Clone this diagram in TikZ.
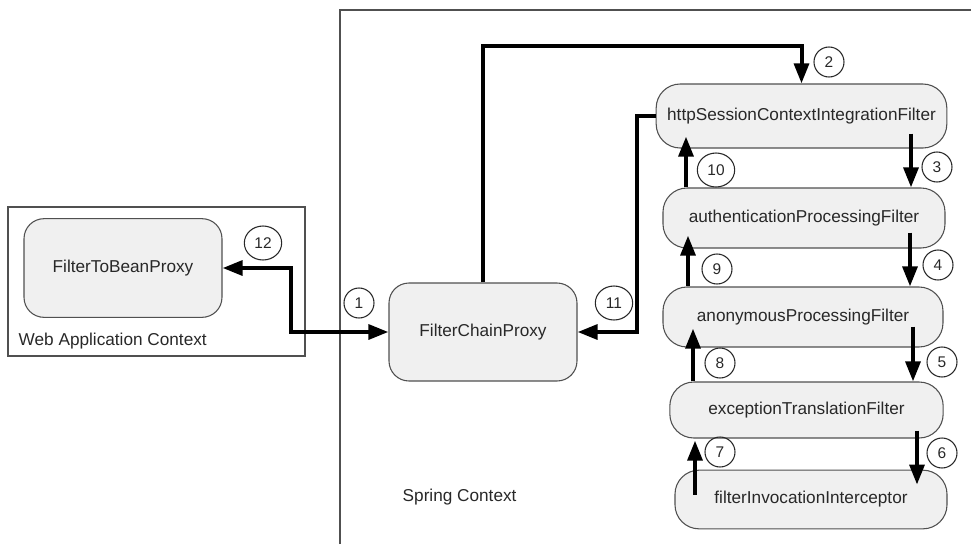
\documentclass[tikz,border=0pt]{standalone}
\usepackage{fontspec}
\setmainfont{Liberation Sans}
\usetikzlibrary{arrows.meta,positioning,calc,shapes.geometric}
\definecolor{BoxFill}{RGB}{240,240,240}
\definecolor{BoxLine}{RGB}{80,80,80}
\definecolor{DarkText}{RGB}{40,40,40}
\tikzset{
  beanbox/.style={draw=BoxLine,fill=BoxFill,rounded corners=15pt,
               font=\fontsize{12.9}{15}\selectfont,text=DarkText,
               text centered,line width=0.8pt},
  filterbox/.style={draw=BoxLine,fill=BoxFill,rounded corners=18pt,
               font=\fontsize{12.9}{15}\selectfont,text=DarkText,
               text centered,line width=0.8pt},
  numc/.style={draw=DarkText,circle,minimum size=22.5pt,inner sep=1pt,
               font=\fontsize{11.6}{13}\selectfont,text=DarkText,line width=0.8pt},
  numw/.style={numc,ellipse,minimum width=28pt,minimum height=25.5pt},
  ctxlabel/.style={anchor=west,font=\fontsize{12.9}{15}\selectfont,text=DarkText},
  ctxline/.style={draw=BoxLine,line width=1pt},
  arr/.style={-{Triangle[length=15pt,width=11pt]},line width=3pt},
  arrb/.style={{Triangle[length=15pt,width=11pt]}-{Triangle[length=15pt,width=11pt]},line width=3pt},
}
\begin{document}
\begin{tikzpicture}[x=0.75pt,y=-0.75pt]
    \useasboundingbox (0,0) rectangle (971,544);

    % Contexts
    \draw[ctxline] (340,544) -- (340,10) -- (971,10);
    \node[ctxline, minimum width=222.75pt, minimum height=111.75pt] (webapp) at (156.5,281.5) {};
    \node[ctxlabel] (weblabel) at (14,341) {Web Application Context};
    \node[ctxlabel] (springlabel) at (398,497) {Spring Context};

    % Node definitions
    \node[beanbox, minimum width=148.5pt, minimum height=74pt] (ftb) at (123,268) {FilterToBeanProxy};
    \node[beanbox, minimum width=141pt, minimum height=73.5pt] (fcp) at (483,332) {FilterChainProxy};
    \node[filterbox, minimum width=218pt, minimum height=48pt] (http) at (801.5,116) {httpSessionContextIntegrationFilter};
    \node[filterbox, minimum width=211.5pt, minimum height=45pt] (auth) at (804,218) {authenticationProcessingFilter};
    \node[filterbox, minimum width=210pt, minimum height=45pt] (anon) at (803,317) {anonymousProcessingFilter};
    \node[filterbox, minimum width=205pt, minimum height=42pt] (exc) at (806.5,410) {exceptionTranslationFilter};
    \node[filterbox, minimum width=204pt, minimum height=44pt] (inv) at (811,499.5) {filterInvocationInterceptor};

    % Edges
    \draw[arrb] (ftb.east) -- ++(68,0) |- (fcp.west);
    \draw[arr] (fcp.north) -- ++(0,-236) -| (http.north);
    \draw[arr] (http.west) -- ++(-19,0) |- (fcp.east);
    \draw[arr] ([shift={(109.5,-15)}]http.south) -- ([shift={(107,0)}]auth.north);
    \draw[arr] ([shift={(106,-16)}]auth.south) -- ([shift={(107,0)}]anon.north);
    \draw[arr] ([shift={(110,-21)}]anon.south) -- ([shift={(106.5,0)}]exc.north);
    \draw[arr] ([shift={(110.5,-8)}]exc.south) -- ([shift={(106,15)}]inv.north);
    \draw[arr] ([shift={(-116,25)}]inv.north) -- ([shift={(-111.5,2)}]exc.south);
    \draw[arr] ([shift={(-113.5,0)}]exc.north) -- ([shift={(-110,-19)}]anon.south);
    \draw[arr] ([shift={(-115,0)}]anon.north) -- ([shift={(-116,-13)}]auth.south);
    \draw[arr] ([shift={(-118,0)}]auth.north) -- ([shift={(-115.5,-12)}]http.south);

    % Labels
    \node[numc] (n1) at (359,303) {1};
    \node[numc] (n2) at (829,62) {2};
    \node[numc] (n3) at (937,167) {3};
    \node[numc] (n4) at (938,265) {4};
    \node[numc] (n5) at (942,362) {5};
    \node[numc] (n6) at (942,453) {6};
    \node[numc] (n7) at (720,452) {7};
    \node[numc] (n8) at (720,363) {8};
    \node[numc] (n9) at (717,269) {9};
    \node[numw] (n10) at (716,170) {10};
    \node[numw] (n11) at (614,303) {11};
    \node[numw] (n12) at (263,243) {12};
\end{tikzpicture}
\end{document}
